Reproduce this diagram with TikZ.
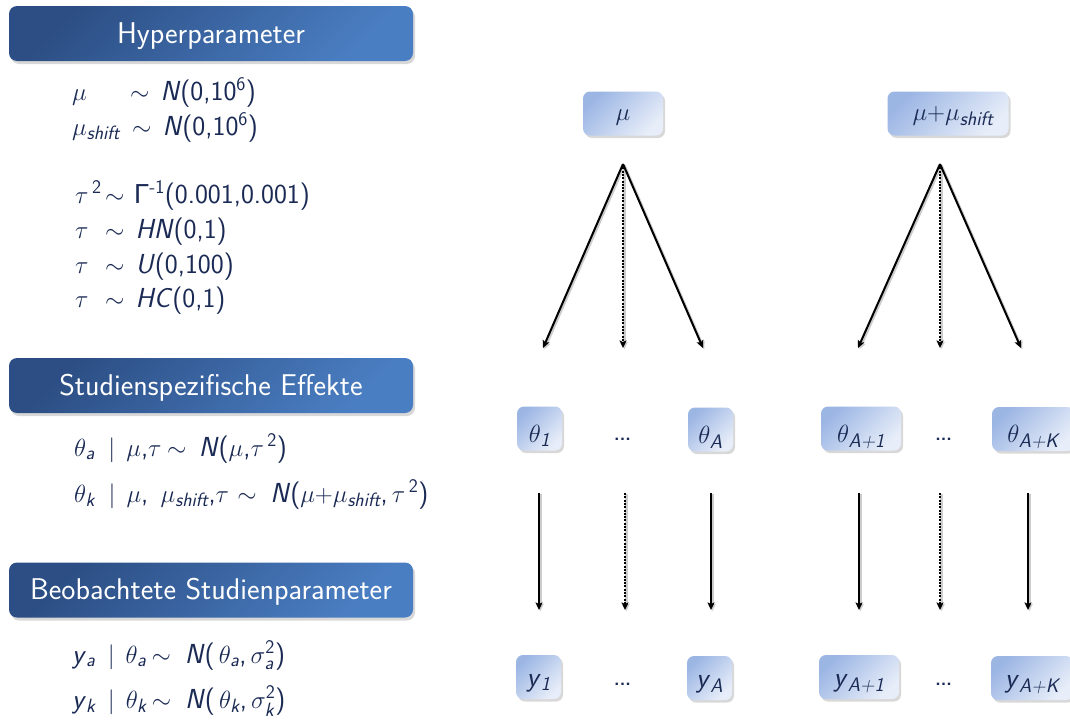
\documentclass[tikz,border=0pt]{standalone}
\usepackage{fontspec}
\usepackage{amsmath}
\usetikzlibrary{shadows,arrows.meta}
\newfontfamily\gfont{Liberation Sans}
\definecolor{navy}{RGB}{26,42,84}
\definecolor{hdA}{RGB}{44,78,132}
\definecolor{hdB}{RGB}{74,126,194}
\definecolor{ndA}{RGB}{156,182,228}
\definecolor{ndB}{RGB}{232,238,249}
\newcommand{\Si}[1]{\textsf{\itshape #1}}
\newcommand{\Su}[1]{\textsf{#1}}
\begin{document}
\begin{tikzpicture}[x=1pt,y=-1pt,
  every node/.style={font=\sffamily\fontsize{27.5}{33}\selectfont, text=navy},
  hdr/.style={rounded corners=8pt, minimum width=404pt, minimum height=55pt,
    inner sep=0pt, top color=hdA, bottom color=hdB, shading angle=45,
    text=white, font=\sffamily\fontsize{30}{36}\selectfont,
    text height=26pt, text depth=7pt,
    drop shadow={shadow xshift=2pt, shadow yshift=-3pt, opacity=0.3}},
  box/.style={rounded corners=7pt, minimum height=44pt, inner sep=0pt,
    top color=ndA, bottom color=ndB, shading angle=45,
    font=\sffamily\fontsize{28}{33}\selectfont,
    drop shadow={shadow xshift=2pt, shadow yshift=-2.5pt, opacity=0.3}},
  thbox/.style={box, text height=30pt, text depth=3pt},
  ybox/.style={box, text height=22pt, text depth=4pt},
  mbox/.style={box, text height=20pt, text depth=6pt},
  fml/.style={anchor=base west, inner sep=0pt},
  dotsnode/.style={anchor=base, inner sep=0pt, font=\sffamily\bfseries\fontsize{18}{22}\selectfont},
  arr/.style={line width=2pt, -{Stealth[length=7.5pt,width=7pt,inset=1.5pt]},
    preaction={draw=black!20, line width=2.6pt, transform canvas={xshift=1.3pt,yshift=-1.3pt}}},
  darr/.style={arr, dash pattern=on 2pt off 1.3pt},
]
\clip (0,0) rectangle (1070,720);
\fill[white] (0,0) rectangle (1070,720);

% headers
\node[hdr] (h1) at (211,33.5) {Hyperparameter};
\node[hdr] (h2) at (211,385.5) {Studienspezifische Effekte};
\node[hdr] (h3) at (211,590) {Beobachtete Studienparameter};

% hyperparameter formulas
\node[fml] (f1a) at (72,100) {$\mu$};
\node[fml] (f1b) at (130,100) {$\sim$\hspace{0.4em}\Si{N}(0,10$^{\Su{6}}$)};
\node[fml] (f2a) at (72,135) {$\mu_{\Si{shift}}$};
\node[fml] (f2b) at (132,135) {$\sim$\hspace{0.4em}\Si{N}(0,10$^{\Su{6}}$)};
\node[fml] (f3a) at (75,203) {$\tau^{\,\Su{2}}$};
\node[fml] (f3b) at (105,203) {$\sim$\hspace{0.35em}{\gfont Γ}$^{\Su{-1}}$(0.001,0.001)};
\node[fml] (f4a) at (75,238) {$\tau$};
\node[fml] (f4b) at (105,238) {$\sim$\hspace{0.4em}\Si{HN}(0,1)};
\node[fml] (f5a) at (75,273) {$\tau$};
\node[fml] (f5b) at (105,273) {$\sim$\hspace{0.4em}\Si{U}(0,100)};
\node[fml] (f6a) at (75,307) {$\tau$};
\node[fml] (f6b) at (105,307) {$\sim$\hspace{0.4em}\Si{HC}(0,1)};

% study-specific effects
\node[fml] (g1) at (74,456) {$\theta_{\Si{a}}$\hspace{0.5em}$|$\hspace{0.4em}$\mu$,$\tau$\hspace{0.2em}$\sim$\hspace{0.45em}\Si{N}($\mu$,$\tau^{\,\Su{2}}$)};
\node[fml] (g2) at (74,502) {$\theta_{\Si{k}}$\hspace{0.5em}$|$\hspace{0.4em}$\mu$,\hspace{0.45em}$\mu_{\Si{shift}}$,$\tau$\hspace{0.3em}$\sim$\hspace{0.5em}\Si{N}($\mu{+}\mu_{\Si{shift}}$,$\,\tau^{\,\Su{2}}$)};

% observed
\node[fml] (o1) at (72,663) {\Si{y}$_{\Si{a}}$\hspace{0.45em}$|$\hspace{0.4em}$\theta_{\Si{a}}$\hspace{0.2em}$\sim$\hspace{0.5em}\Si{N}($\,\theta_{\Si{a}}$,$\,\sigma_{\Si{a}}^{\Su{2}}$)};
\node[fml] (o2) at (72,708) {\Si{y}$_{\Si{k}}$\hspace{0.45em}$|$\hspace{0.4em}$\theta_{\Si{k}}$\hspace{0.2em}$\sim$\hspace{0.5em}\Si{N}($\,\theta_{\Si{k}}$,$\,\sigma_{\Si{k}}^{\Su{2}}$)};

% right: top nodes
\node[mbox, minimum width=80pt] (mu) at (623,113.5) {$\mu$};
\node[mbox, minimum width=121pt] (mus) at (948,113.5) {\hspace{10pt}$\mu{+}\mu_{\Si{shift}}$};

% theta nodes
\node[thbox, minimum width=45pt] (th1) at (539.5,428.5) {$\theta_{\Si{1}}$};
\node[thbox, minimum width=45pt] (thA) at (710.5,429.5) {$\theta_{\Si{A}}$};
\node[thbox, minimum width=80pt] (thA1) at (861,428.5) {$\theta_{\Si{A+1}}$};
\node[thbox, minimum width=82pt] (thAK) at (1033,429) {$\theta_{\Si{A+K}}$};
\node[dotsnode] (dt1) at (622.5,440) {...};
\node[dotsnode] (dt2) at (943.5,440) {...};

% y nodes
\node[ybox, minimum width=45pt] (y1) at (538.5,677) {\Si{y}$_{\Si{1}}$};
\node[ybox, minimum width=45pt] (yA) at (709.5,678) {\Si{y}$_{\Si{A}}$};
\node[ybox, minimum width=80pt] (yA1) at (859,677) {\Si{y}$_{\Si{A+1}}$};
\node[ybox, minimum width=82pt] (yAK) at (1032,678) {\Si{y}$_{\Si{A+K}}$};
\node[dotsnode] (dy1) at (622.5,685) {...};
\node[dotsnode] (dy2) at (943.5,685) {...};

% tree 1
\coordinate (ap1) at (623,164);
\coordinate (t1l) at (543,348);
\coordinate (t1m) at (623,348);
\coordinate (t1r) at (703,348);
\draw[arr] (ap1) -- (t1l);
\draw[darr] (ap1) -- (t1m);
\draw[arr] (ap1) -- (t1r);
% tree 2
\coordinate (ap2) at (940,164);
\coordinate (t2l) at (858,348);
\coordinate (t2m) at (940,348);
\coordinate (t2r) at (1021,348);
\draw[arr] (ap2) -- (t2l);
\draw[darr] (ap2) -- (t2m);
\draw[arr] (ap2) -- (t2r);

% vertical arrows
\foreach \n/\x/\s in {v1/539/arr, v2/625/darr, v3/711/arr, v4/859/arr, v5/940/darr, v6/1028/arr}{
  \coordinate (\n s) at (\x,493);
  \coordinate (\n e) at (\x,610);
  \draw[\s] (\n s) -- (\n e);
}
\end{tikzpicture}
\end{document}
